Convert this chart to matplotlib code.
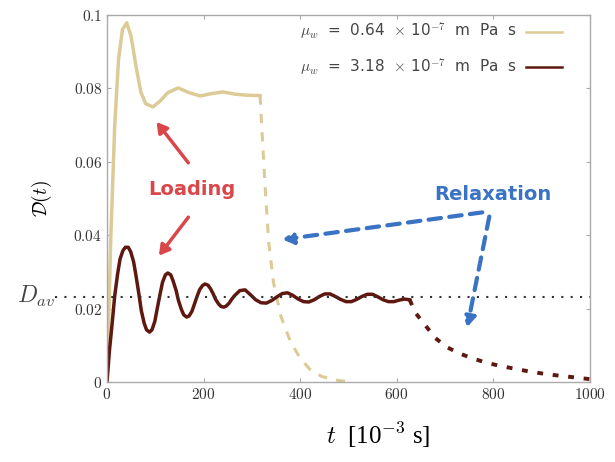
import matplotlib
matplotlib.use("Agg")
import matplotlib.pyplot as plt
import matplotlib.transforms as mtransforms

plt.rcParams['mathtext.fontset'] = 'cm'

# light curve (mu_w = 0.64e-7), loading phase
t_light = [0, 8, 16, 24, 32, 41, 50, 60, 70, 80, 95, 110, 125, 147, 170, 193, 215, 240, 265, 290, 317]
d_light = [0, 0.040, 0.070, 0.088, 0.096, 0.0978, 0.094, 0.086, 0.079, 0.0758, 0.0749, 0.0765,
           0.0787, 0.0801, 0.0788, 0.0779, 0.0785, 0.0790, 0.0784, 0.0781, 0.0780]
# light curve, relaxation phase
t_light_rel = [317, 322, 328, 335, 345, 360, 380, 400, 420, 445, 480, 510]
d_light_rel = [0.0780, 0.066, 0.052, 0.038, 0.027, 0.018, 0.011, 0.0065, 0.0035, 0.0015, 0.0004, 0.0]

# dark curve (mu_w = 3.18e-7), loading phase
t_dark = [0, 5, 11, 16, 22, 27, 33, 38, 44, 49, 55, 60, 66, 71, 77, 82, 88, 93, 99, 104, 110, 115,
          121, 126, 132, 137, 143, 148, 154, 159, 165, 170, 176, 181, 187, 192, 198, 203, 209, 214,
          220, 225, 231, 236, 242, 247, 253, 258, 264, 275, 286, 297, 308, 319, 330, 341, 352,
          363, 374, 385, 396, 407, 418, 429, 440, 451, 462, 473, 484, 495, 506, 517, 528, 539,
          550, 561, 572, 583, 594, 605, 616, 627]
d_dark = [0, 0.0085, 0.0165, 0.0235, 0.0295, 0.0335, 0.0358, 0.0367, 0.0367, 0.0355, 0.0328,
          0.0290, 0.0240, 0.0195, 0.0160, 0.0142, 0.0136, 0.0142, 0.0165, 0.0200, 0.0240, 0.0272,
          0.0292, 0.0297, 0.0292, 0.0275, 0.0250, 0.0222, 0.0198, 0.0183, 0.0177, 0.0180, 0.0193,
          0.0212, 0.0235, 0.0252, 0.0263, 0.0267, 0.0264, 0.0255, 0.0240, 0.0225, 0.0213, 0.0206,
          0.0204, 0.0207, 0.0215, 0.0225, 0.0235, 0.0249, 0.0251, 0.0238, 0.0224, 0.0216, 0.0215,
          0.0222, 0.0232, 0.0241, 0.0243, 0.0236, 0.0226, 0.0219, 0.0218, 0.0224, 0.0233, 0.0240,
          0.0240, 0.0233, 0.0225, 0.0219, 0.0219, 0.0225, 0.0233, 0.0239, 0.0239, 0.0232, 0.0224,
          0.0219, 0.0219, 0.0223, 0.0226, 0.0224]
# dark curve, relaxation phase
t_dark_rel = [627, 638, 650, 662, 680, 704, 730, 756, 785, 814, 850, 882, 920, 960, 1000]
d_dark_rel = [0.0224, 0.0190, 0.0170, 0.0150, 0.0120, 0.0095, 0.0078, 0.0065, 0.0053, 0.0044,
              0.0035, 0.0027, 0.0020, 0.0014, 0.0008]

d_av = 0.0232
x_ticks = [0, 200, 400, 600, 800, 1000]
y_ticks = [0, 0.02, 0.04, 0.06, 0.08, 0.1]
y_tick_labels = ['0', '0.02', '0.04', '0.06', '0.08', '0.1']
labels = [r'$\mu_w$  =  0.64  $\times$ 10$^{-7}$  m  Pa  s',
          r'$\mu_w$  =  3.18  $\times$ 10$^{-7}$  m  Pa  s']

c_light = '#dccb96'
c_dark = '#5e1810'
c_red = '#d9474a'
c_blue = '#3a72c4'

fig = plt.figure(figsize=(6.15, 4.62), dpi=100)
ax = fig.add_axes([0.174, 0.173, 0.785, 0.795])

ax.plot(t_light, d_light, color=c_light, lw=2.5, label=labels[0])
ax.plot(t_light_rel, d_light_rel, color=c_light, lw=2.2, ls=(0, (3, 3)))
ax.plot(t_dark, d_dark, color=c_dark, lw=2.5, label=labels[1])
ax.plot(t_dark_rel, d_dark_rel, color=c_dark, lw=2.8, ls=(0, (1.5, 2.5)))

# average line, running out past the left spine
trans = mtransforms.blended_transform_factory(ax.transAxes, ax.transData)
ax.plot([-0.108, 1.0], [d_av, d_av], color='#333333', lw=1.5, ls=(0, (1, 3.5)),
        transform=trans, clip_on=False)
ax.text(-0.108, d_av, r'$D_{av}$', transform=trans, ha='right', va='center',
        fontsize=17, color='#444444')

ax.set_xlim(0, 1000)
ax.set_ylim(0, 0.1)
ax.set_xticks(x_ticks)
ax.set_xticklabels([r'$%d$' % v for v in x_ticks])
ax.set_yticks(y_ticks)
ax.set_yticklabels([r'$%s$' % s for s in y_tick_labels])
ax.tick_params(direction='in', top=True, right=True, length=3, color='#aaaaaa',
               labelsize=11, labelcolor='#333333')
for s in ax.spines.values():
    s.set_color('#aaaaaa')
    s.set_linewidth(1.0)

ax.set_ylabel(r'$\mathcal{D}(t)$', fontsize=14, labelpad=14)
fig.text(0.615, 0.025, r'$t$  [10$^{-3}$ s]', fontsize=18, family='Liberation Serif',
         ha='center', va='bottom')

leg = ax.legend(loc='upper right', frameon=False, markerfirst=False, fontsize=11,
                labelspacing=0.95, handlelength=2.3, handletextpad=0.6,
                bbox_to_anchor=(0.97, 1.02))
for h in leg.get_lines():
    h.set_linewidth(1.8)
for txt in leg.get_texts():
    txt.set_color('#444444')

# annotations
ax.text(176, 0.0523, 'Loading', color=c_red, fontsize=14, fontweight='bold',
        ha='center', va='center')
ax.annotate('', xy=(99, 0.0714), xytext=(172, 0.0591),
            arrowprops=dict(arrowstyle='-|>,head_length=0.6,head_width=0.35', color=c_red, lw=2.5))
ax.annotate('', xy=(104, 0.0338), xytext=(172, 0.0455),
            arrowprops=dict(arrowstyle='-|>,head_length=0.6,head_width=0.35', color=c_red, lw=2.5))

ax.text(799, 0.0512, 'Relaxation', color=c_blue, fontsize=14, fontweight='bold',
        ha='center', va='center')
ax.annotate('', xy=(358, 0.0387), xytext=(783, 0.0463),
            arrowprops=dict(arrowstyle='-|>,head_length=0.6,head_width=0.35', color=c_blue,
                            lw=3, ls=(0, (3, 2))))
ax.annotate('', xy=(745, 0.0142), xytext=(793, 0.0458),
            arrowprops=dict(arrowstyle='-|>,head_length=0.6,head_width=0.35', color=c_blue,
                            lw=3, ls=(0, (3, 2))))

fig.savefig('out.png', dpi=100)
